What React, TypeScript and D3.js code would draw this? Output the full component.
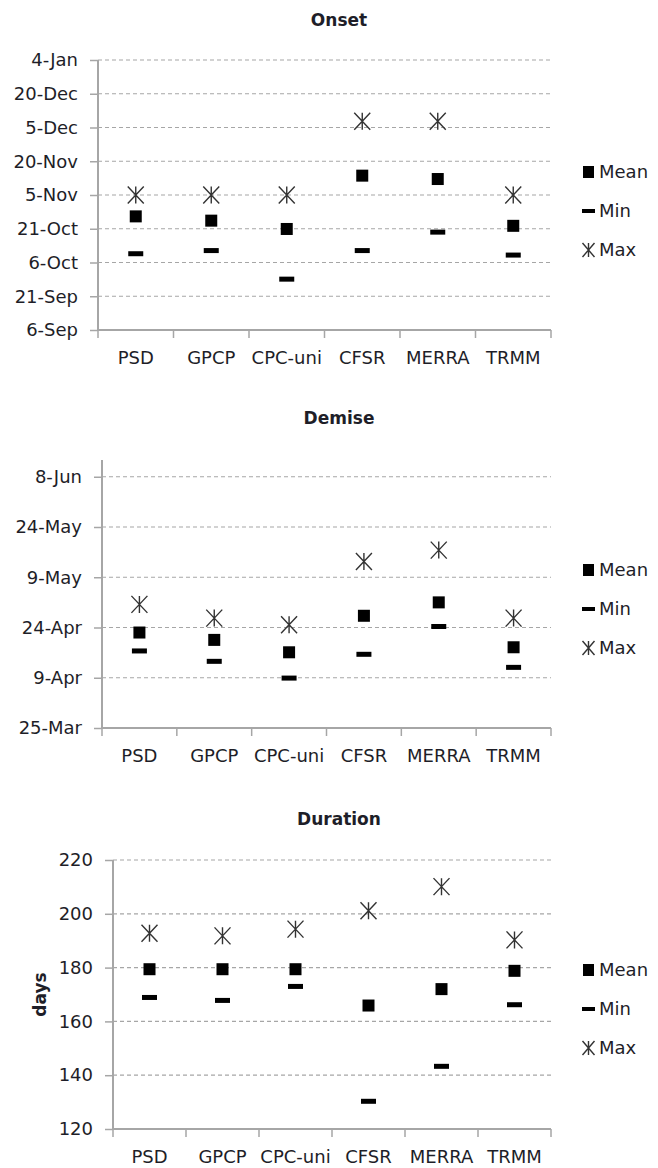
import React, { useEffect, useRef } from "react";
import * as d3 from "d3";

const categories = ["PSD", "GPCP", "CPC-uni", "CFSR", "MERRA", "TRMM"];

// onset, in days after 6-Sep
const onsetMean = [50.5, 48.6, 44.9, 68.6, 67.1, 46.3];
const onsetMin = [33.9, 35.3, 22.6, 35.3, 43.5, 33.3];
const onsetMax = [60, 60, 60, 92.8, 92.8, 60];
const onsetTicks = [0, 15, 30, 45, 60, 75, 90, 105, 120];
const onsetLabels = ["6-Sep", "21-Sep", "6-Oct", "21-Oct", "5-Nov", "20-Nov", "5-Dec", "20-Dec", "4-Jan"];

// demise, in days after 25-Mar
const demiseMean = [28.5, 26.3, 22.6, 33.5, 37.5, 24.1];
const demiseMin = [23.0, 19.9, 14.9, 22.0, 30.3, 18.1];
const demiseMax = [36.9, 32.8, 30.8, 49.7, 53.1, 32.8];
const demiseTicks = [0, 15, 30, 45, 60, 75];
const demiseLabels = ["25-Mar", "9-Apr", "24-Apr", "9-May", "24-May", "8-Jun"];

// duration, days
const durMean = [179.4, 179.4, 179.4, 165.9, 172.0, 178.8];
const durMin = [168.9, 167.8, 173.0, 130.3, 143.3, 166.2];
const durMax = [192.8, 191.8, 194.3, 201.1, 210.1, 190.3];
const durTicks = [120, 140, 160, 180, 200, 220];
const durLabels = durTicks.map(String);

const font = "'DejaVu Sans', sans-serif";
const txt = "#1e1e28";
const gray = "#a6a6a6";

const panels = [
  { title: "Onset", titleY: 20, left: 98, top: 60, bottom: 330, domain: [0, 120], ticks: onsetTicks, labels: onsetLabels, mean: onsetMean, min: onsetMin, max: onsetMax, legendY: 172 },
  { title: "Demise", titleY: 418, left: 102, top: 460, bottom: 728, domain: [0, 80], ticks: demiseTicks, labels: demiseLabels, mean: demiseMean, min: demiseMin, max: demiseMax, legendY: 570 },
  { title: "Duration", titleY: 819, left: 113, top: 860, bottom: 1129, domain: [120, 220], ticks: durTicks, labels: durLabels, mean: durMean, min: durMin, max: durMax, legendY: 970, yTitle: "days" },
];

const right = 551;

function star(g, x, y, w, h) {
  const hw = w / 2, hh = h / 2;
  g.append("path")
    .attr("d", `M${x - hw},${y - hh}L${x + hw},${y + hh}M${x - hw},${y + hh}L${x + hw},${y - hh}M${x},${y - hh}L${x},${y + hh}`)
    .attr("stroke", "#333")
    .attr("stroke-width", 1.4)
    .attr("fill", "none");
}

const App = () => {
  const ref = useRef(null);

  useEffect(() => {
    const svg = d3.select(ref.current);
    svg.selectAll("*").remove();

    panels.forEach((p) => {
      const g = svg.append("g");
      const y = d3.scaleLinear().domain(p.domain).range([p.bottom, p.top]);
      const x = d3.scaleBand().domain(categories).range([p.left, right]);

      g.append("text")
        .attr("x", 339)
        .attr("y", p.titleY)
        .attr("dy", "0.35em")
        .attr("text-anchor", "middle")
        .attr("font-family", font)
        .attr("font-weight", "bold")
        .attr("font-size", 17)
        .attr("fill", txt)
        .text(p.title);

      // dashed gridlines (not at the baseline)
      g.append("g")
        .selectAll("line")
        .data(p.ticks.filter((t) => t !== p.domain[0]))
        .join("line")
        .attr("x1", p.left)
        .attr("x2", right)
        .attr("y1", (d) => y(d))
        .attr("y2", (d) => y(d))
        .attr("stroke", gray)
        .attr("stroke-width", 1.2)
        .attr("stroke-dasharray", "4,3");

      const yAxis = g.append("g")
        .attr("transform", `translate(${p.left},0)`)
        .call(d3.axisLeft(y).tickValues(p.ticks).tickSize(8).tickPadding(12).tickFormat((d, i) => p.labels[i]));
      yAxis.select(".domain").remove();
      yAxis.selectAll("line").attr("stroke", gray).attr("stroke-width", 1.5);
      yAxis.selectAll("text").attr("font-family", font).attr("font-size", 18).attr("fill", txt);

      // axis lines
      g.append("line").attr("x1", p.left).attr("x2", p.left).attr("y1", p.top).attr("y2", p.bottom).attr("stroke", gray).attr("stroke-width", 2);
      g.append("line").attr("x1", p.left).attr("x2", right).attr("y1", p.bottom).attr("y2", p.bottom).attr("stroke", gray).attr("stroke-width", 2);

      const edges = categories.map((c) => x(c)).concat([right]);
      g.append("g")
        .selectAll("line")
        .data(edges)
        .join("line")
        .attr("x1", (d) => d)
        .attr("x2", (d) => d)
        .attr("y1", p.bottom)
        .attr("y2", p.bottom + 8)
        .attr("stroke", gray)
        .attr("stroke-width", 1.5);

      g.append("g")
        .selectAll("text")
        .data(categories)
        .join("text")
        .attr("x", (d) => x(d) + x.bandwidth() / 2)
        .attr("y", p.bottom + 28)
        .attr("dy", "0.35em")
        .attr("text-anchor", "middle")
        .attr("font-family", font)
        .attr("font-size", 18)
        .attr("fill", txt)
        .text((d) => d);

      if (p.yTitle) {
        g.append("text")
          .attr("transform", `translate(40,${(p.top + p.bottom) / 2}) rotate(-90)`)
          .attr("text-anchor", "middle")
          .attr("dy", "0.35em")
          .attr("font-family", font)
          .attr("font-weight", "bold")
          .attr("font-size", 17)
          .attr("fill", txt)
          .text(p.yTitle);
      }

      const cx = (i) => x(categories[i]) + x.bandwidth() / 2;

      // min
      g.append("g")
        .selectAll("rect")
        .data(p.min)
        .join("rect")
        .attr("x", (d, i) => cx(i) - 7.5)
        .attr("y", (d) => y(d) - 2.5)
        .attr("width", 15)
        .attr("height", 5)
        .attr("fill", "#000");

      // mean
      g.append("g")
        .selectAll("rect")
        .data(p.mean)
        .join("rect")
        .attr("x", (d, i) => cx(i) - 6)
        .attr("y", (d) => y(d) - 6)
        .attr("width", 12)
        .attr("height", 12)
        .attr("fill", "#000");

      // max
      const mg = g.append("g");
      p.max.forEach((d, i) => star(mg, cx(i), y(d), 16, 17));

      // legend
      const lg = g.append("g");
      const ly = [p.legendY, p.legendY + 39, p.legendY + 78];
      lg.append("rect").attr("x", 583).attr("y", ly[0] - 6).attr("width", 11).attr("height", 12).attr("fill", "#000");
      lg.append("rect").attr("x", 582).attr("y", ly[1] - 2).attr("width", 13).attr("height", 4).attr("fill", "#000");
      star(lg, 588.5, ly[2], 12, 14);
      ["Mean", "Min", "Max"].forEach((t, i) => {
        lg.append("text")
          .attr("x", 599)
          .attr("y", ly[i])
          .attr("dy", "0.35em")
          .attr("font-family", font)
          .attr("font-size", 18)
          .attr("fill", txt)
          .text(t);
      });
    });
  }, []);

  return (
    <svg
      ref={ref}
      width={658}
      height={1168}
      style={{ position: "absolute", left: 0, top: 0, background: "#fff" }}
    />
  );
};

export default App;
